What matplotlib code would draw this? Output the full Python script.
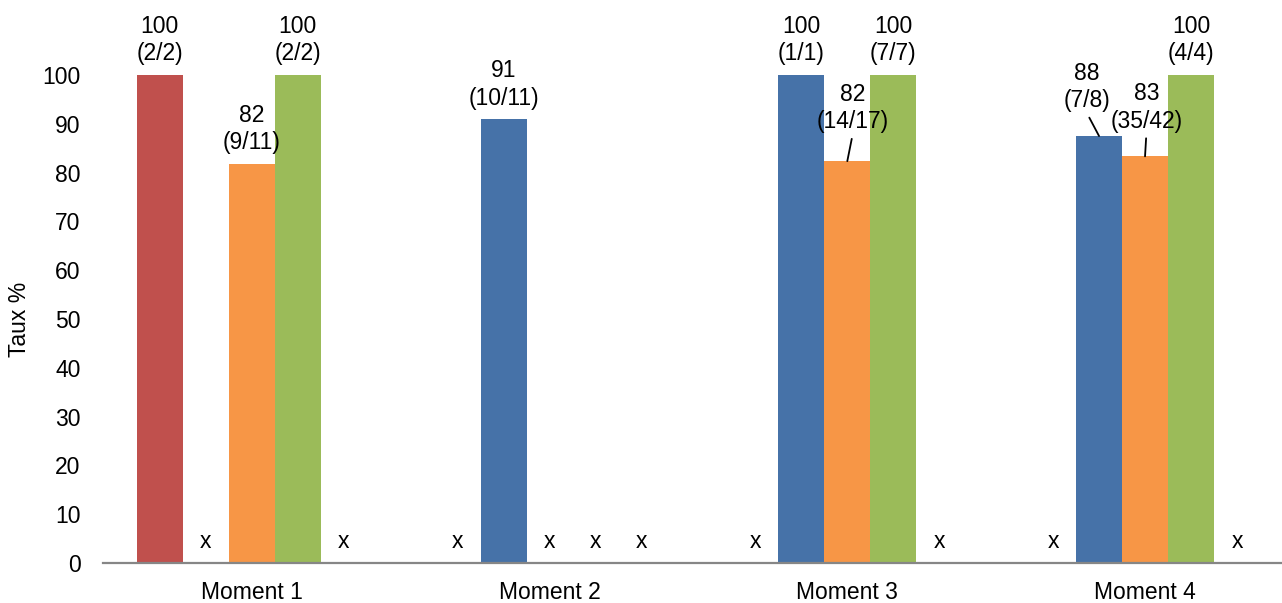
import matplotlib
matplotlib.use("Agg")
from matplotlib import pyplot as plt
import numpy as np

plt.rcParams['font.family'] = ['Liberation Sans', 'DejaVu Sans']

# data
moments = ["Moment 1", "Moment 2", "Moment 3", "Moment 4"]
serie_rouge = [100, None, None, None]
serie_bleue = [None, 10 / 11 * 100, 100, 7 / 8 * 100]
serie_orange = [9 / 11 * 100, None, 14 / 17 * 100, 35 / 42 * 100]
serie_verte = [100, None, 100, 100]
serie_vide = [None, None, None, None]
lbl_rouge = ["100\n(2/2)", None, None, None]
lbl_bleue = [None, "91\n(10/11)", "100\n(1/1)", "88\n(7/8)"]
lbl_orange = ["82\n(9/11)", None, "82\n(14/17)", "83\n(35/42)"]
lbl_verte = ["100\n(2/2)", None, "100\n(7/7)", "100\n(4/4)"]
lbl_vide = [None, None, None, None]

series = [serie_rouge, serie_bleue, serie_orange, serie_verte, serie_vide]
labels = [lbl_rouge, lbl_bleue, lbl_orange, lbl_verte, lbl_vide]
couleurs = ["#C0504D", "#4672A8", "#F79646", "#9BBB59", "#8064A2"]

# labels moved off the bar with a leader line: (serie, moment) -> offset in points
decales = {(2, 2): (4, 20), (1, 3): (-9, 17), (2, 3): (1, 17)}

fs = 16.5
fig = plt.figure(figsize=(12.82, 6.03), dpi=100)
ax = fig.add_axes([0.0803, 0.0663, 0.9197, 0.8093])

w = 0.1545
x = np.arange(len(moments))
for i, (vals, lbls) in enumerate(zip(series, labels)):
    pos = x + (i - 2) * w
    for j, v in enumerate(vals):
        if v is None:
            ax.text(pos[j], 3.0, "x", ha="center", va="baseline", fontsize=fs)
            continue
        ax.bar(pos[j], v, w, color=couleurs[i], edgecolor="none")
        if (i, j) in decales:
            ax.annotate(lbls[j], xy=(pos[j], v), xytext=decales[(i, j)],
                        textcoords="offset points", ha="center", va="bottom",
                        fontsize=fs, linespacing=1.25, annotation_clip=False,
                        arrowprops=dict(arrowstyle="-", color="black", lw=1.3,
                                        relpos=(0.5, 0), shrinkA=2, shrinkB=0))
        else:
            ax.annotate(lbls[j], xy=(pos[j], v), xytext=(0, 7),
                        textcoords="offset points", ha="center", va="bottom",
                        fontsize=fs, linespacing=1.25, annotation_clip=False)

ax.set_xlim(-0.5, 3.46)
ax.set_ylim(0, 100)
ax.set_yticks(range(0, 101, 10))
ax.set_xticks(x)
ax.set_xticklabels(moments)
ax.tick_params(axis="both", length=0, labelsize=fs)
ax.tick_params(axis="y", pad=16)
ax.tick_params(axis="x", pad=13)
for s in ["top", "right", "left"]:
    ax.spines[s].set_visible(False)
ax.spines["bottom"].set_color("#868686")
ax.spines["bottom"].set_linewidth(1.6)
ax.set_ylabel("Taux %", fontsize=fs, labelpad=8)

plt.savefig("out.png", dpi=100)
